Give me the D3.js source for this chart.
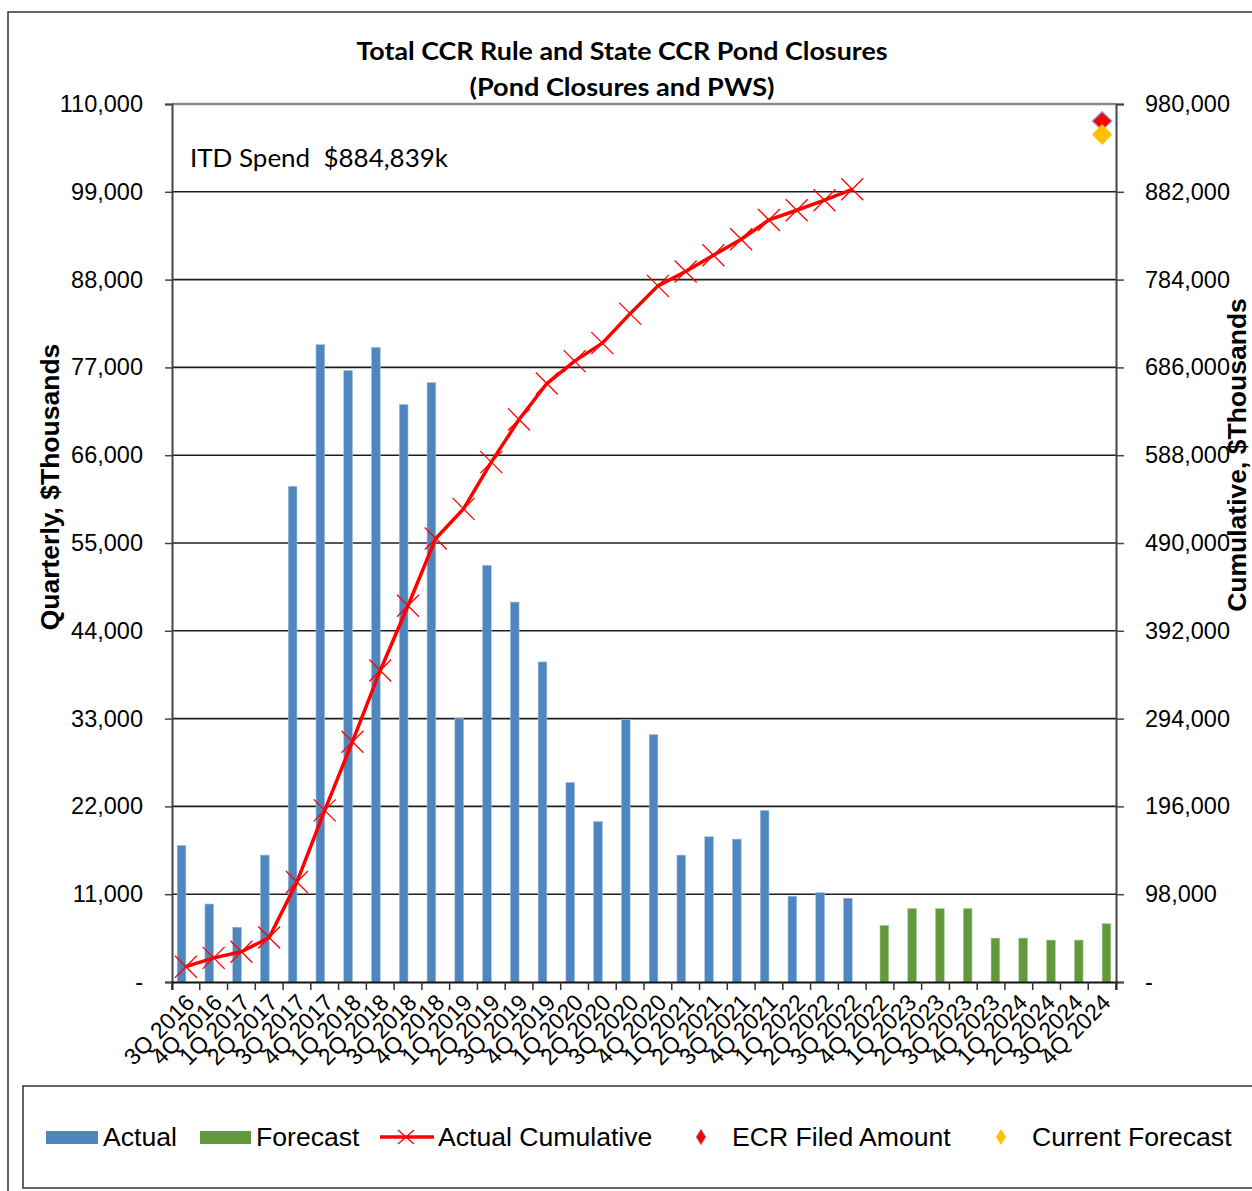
<!DOCTYPE html>
<html><head><meta charset="utf-8">
<script src="https://cdn.jsdelivr.net/npm/d3@7"></script>
<style>
html,body{margin:0;padding:0;background:#fff;}
svg{display:block;}
</style></head>
<body>
<script>
const categories = ["3Q 2016","4Q 2016","1Q 2017","2Q 2017","3Q 2017","4Q 2017","1Q 2018","2Q 2018","3Q 2018","4Q 2018","1Q 2019","2Q 2019","3Q 2019","4Q 2019","1Q 2020","2Q 2020","3Q 2020","4Q 2020","1Q 2021","2Q 2021","3Q 2021","4Q 2021","1Q 2022","2Q 2022","3Q 2022","4Q 2022","1Q 2023","2Q 2023","3Q 2023","4Q 2023","1Q 2024","2Q 2024","3Q 2024","4Q 2024"];
const actualCats = categories.slice(0, 25);
const actual = [17100, 9770, 6870, 15900, 62100, 79850, 76600, 79500, 72350, 75100, 33000, 52200, 47600, 40100, 25000, 20100, 32900, 31000, 15900, 18200, 17900, 21500, 10750, 11200, 10500];
const forecastCats = categories.slice(25);
const forecast = [7100, 9200, 9200, 9200, 5500, 5500, 5250, 5250, 7300];
const cumulative = [17100, 26900, 33700, 49600, 111700, 191600, 268200, 347700, 420000, 495100, 528100, 580300, 627900, 668000, 693000, 713100, 746000, 777000, 793000, 811200, 829100, 850600, 861400, 872600, 884839];
const ecrFiled = {cat: "4Q 2024", value: 961000};
const currentForecast = {cat: "4Q 2024", value: 946000};
const leftTicks = [0, 11000, 22000, 33000, 44000, 55000, 66000, 77000, 88000, 99000, 110000];
const rightTicks = [0, 98000, 196000, 294000, 392000, 490000, 588000, 686000, 784000, 882000, 980000];
const titleLines = ["Total CCR Rule and State CCR Pond Closures", "(Pond Closures and PWS)"];
const itdText = "ITD Spend  $884,839k";

const W = 1252, H = 1191;
const P = {l: 172, r: 1116, t: 104, b: 982};
const BLUE = "#4F86BE", GREEN = "#63993D", RED = "#FF0000", GOLD = "#FFC000";
const FONT = "'Liberation Sans', Arial, sans-serif";

const svg = d3.select("body").append("svg").attr("width", W).attr("height", H);

// outer frame
svg.append("path").attr("d", `M8,${H} L8,12 L${W},12`).attr("fill","none").attr("stroke","#333").attr("stroke-width",1.5);

const x = d3.scaleBand().domain(categories).range([P.l, P.r]).paddingInner(0).paddingOuter(0);
const sub = d3.scaleBand().domain(["Actual","Forecast"]).range([x.bandwidth()/2 - 8.7, x.bandwidth()/2 + 8.7]).padding(0);
const yL = d3.scaleLinear().domain([0, 110000]).range([P.b, P.t]);
const yR = d3.scaleLinear().domain([0, 980000]).range([P.b, P.t]);

// gridlines
svg.append("g").selectAll("line").data(leftTicks.filter(d => d > 0)).join("line")
  .attr("x1", P.l).attr("x2", P.r).attr("y1", d => yL(d)).attr("y2", d => yL(d))
  .attr("stroke", d => d === 110000 ? "#8a8a8a" : "#1e1e1e").attr("stroke-width", d => d === 110000 ? 2.5 : 1.6);

// bars
svg.append("g").selectAll("rect").data(actual).join("rect")
  .attr("x", (d, i) => x(actualCats[i]) + sub("Actual"))
  .attr("width", sub.bandwidth())
  .attr("y", d => yL(d)).attr("height", d => yL(0) - yL(d))
  .attr("fill", BLUE).attr("stroke", "#9fc0e0").attr("stroke-width", 0.6);
svg.append("g").selectAll("rect").data(forecast).join("rect")
  .attr("x", (d, i) => x(forecastCats[i]) + sub("Forecast"))
  .attr("width", sub.bandwidth())
  .attr("y", d => yL(d)).attr("height", d => yL(0) - yL(d))
  .attr("fill", GREEN).attr("stroke", "#a9cf8f").attr("stroke-width", 0.6);

// axes
const axL = d3.axisLeft(yL).tickValues(leftTicks).tickSize(7).tickFormat(d => d === 0 ? "-" : d3.format(",")(d));
const gL = svg.append("g").attr("transform", `translate(${P.l},0)`).call(axL);
const axR = d3.axisRight(yR).tickValues(rightTicks).tickSize(8).tickFormat(d => d === 0 ? "-" : d3.format(",")(d));
const gR = svg.append("g").attr("transform", `translate(${P.r},0)`).call(axR);
const axB = d3.axisBottom(x).tickSize(8).tickFormat("");
const gB = svg.append("g").attr("transform", `translate(0,${P.b})`).call(axB);
gB.selectAll(".tick").remove();
gB.selectAll(".tk").data(d3.range(categories.length + 1)).join("line")
  .attr("x1", i => P.l + i * x.step()).attr("x2", i => P.l + i * x.step())
  .attr("y1", 0).attr("y2", 8).attr("stroke", "#333").attr("stroke-width", 1.5);
[gL, gR].forEach(g => {
  g.select(".domain").attr("stroke", "#444").attr("stroke-width", 2);
  g.selectAll(".tick line").attr("stroke", "#444").attr("stroke-width", 1.5);
  g.selectAll(".tick text").attr("font-family", FONT).attr("font-size", 23.5).attr("fill", "#000");
});
gL.selectAll(".tick text").attr("x", -29);
gR.selectAll(".tick text").attr("x", 29);
gB.select(".domain").attr("stroke", "#111").attr("stroke-width", 2);

// x labels
svg.append("g").selectAll("text").data(categories).join("text")
  .attr("transform", d => `translate(${x(d) + x.bandwidth()/2 + 10},${P.b + 22}) rotate(-45)`)
  .attr("text-anchor", "end").attr("font-family", FONT).attr("font-size", 23).attr("fill", "#000")
  .text(d => d);

// cumulative line
const lineGen = d3.line().x((d, i) => x(actualCats[i]) + x.bandwidth()/2).y(d => yR(d));
svg.append("path").datum(cumulative).attr("d", lineGen).attr("fill", "none")
  .attr("stroke", RED).attr("stroke-width", 3.5).attr("stroke-linejoin", "round");
const m = 11;
svg.append("g").selectAll("path").data(cumulative).join("path")
  .attr("d", (d, i) => {
    const cx = x(actualCats[i]) + x.bandwidth()/2, cy = yR(d);
    return `M${cx-m},${cy-m}L${cx+m},${cy+m}M${cx-m},${cy+m}L${cx+m},${cy-m}`;
  }).attr("stroke", RED).attr("stroke-width", 1.3).attr("fill", "none");

// diamonds (red first, gold drawn on top)
function diamond(cx, cy, w, h) { return `M${cx},${cy-h}L${cx+w},${cy}L${cx},${cy+h}L${cx-w},${cy}Z`; }
svg.append("path").attr("d", diamond(x(ecrFiled.cat) + x.bandwidth()/2, yR(ecrFiled.value), 10, 9.5)).attr("fill", RED).attr("stroke", "#8fb4e3").attr("stroke-width", 1.2);
svg.append("path").attr("d", diamond(x(currentForecast.cat) + x.bandwidth()/2, yR(currentForecast.value), 10, 10.5)).attr("fill", GOLD);

// titles
const TF = "Lato, 'Open Sans', sans-serif";
svg.append("text").attr("x", 622).attr("y", 60).attr("text-anchor", "middle").attr("font-family", TF).attr("font-weight", "bold").attr("font-size", 25)
  .attr("textLength", 531).attr("lengthAdjust", "spacingAndGlyphs").text(titleLines[0]);
svg.append("text").attr("x", 622).attr("y", 96).attr("text-anchor", "middle").attr("font-family", TF).attr("font-weight", "bold").attr("font-size", 25)
  .attr("textLength", 305).attr("lengthAdjust", "spacingAndGlyphs").text(titleLines[1]);
svg.append("text").attr("x", 190).attr("y", 167).attr("font-family", TF).attr("font-size", 25).style("white-space", "pre")
  .attr("textLength", 258).attr("lengthAdjust", "spacingAndGlyphs").text(itdText);

// axis titles
svg.append("text").attr("transform", "translate(59,487) rotate(-90)").attr("text-anchor", "middle")
  .attr("font-family", FONT).attr("font-weight", "bold").attr("font-size", 26.5).text("Quarterly, $Thousands");
svg.append("text").attr("transform", "translate(1246,455) rotate(-90)").attr("text-anchor", "middle")
  .attr("font-family", FONT).attr("font-weight", "bold").attr("font-size", 26.5).text("Cumulative, $Thousands");

// legend
svg.append("path").attr("d", `M${W},1086 L23,1086 L23,1188 L${W},1188`).attr("fill", "none").attr("stroke", "#333").attr("stroke-width", 1.5);
const LY = 1137;
const lg = svg.append("g").attr("font-family", FONT).attr("font-size", 26.6);
lg.append("rect").attr("x", 46).attr("y", LY - 6).attr("width", 52).attr("height", 13).attr("fill", BLUE);
lg.append("text").attr("x", 103).attr("y", LY + 9).text("Actual");
lg.append("rect").attr("x", 200).attr("y", LY - 6).attr("width", 51).attr("height", 13).attr("fill", GREEN);
lg.append("text").attr("x", 256).attr("y", LY + 9).text("Forecast");
lg.append("line").attr("x1", 380).attr("x2", 434).attr("y1", LY).attr("y2", LY).attr("stroke", RED).attr("stroke-width", 3.5);
lg.append("path").attr("d", `M398,${LY-7}L414,${LY+7}M398,${LY+7}L414,${LY-7}`).attr("stroke", RED).attr("stroke-width", 1.3);
lg.append("text").attr("x", 438).attr("y", LY + 9).text("Actual Cumulative");
lg.append("path").attr("d", diamond(701, LY, 5, 8)).attr("fill", RED).attr("stroke", "#8fb4e3").attr("stroke-width", 0.8);
lg.append("text").attr("x", 732).attr("y", LY + 9).text("ECR Filed Amount");
lg.append("path").attr("d", diamond(1001, LY, 5, 8)).attr("fill", GOLD);
lg.append("text").attr("x", 1032).attr("y", LY + 9).text("Current Forecast");
</script>
</body></html>
